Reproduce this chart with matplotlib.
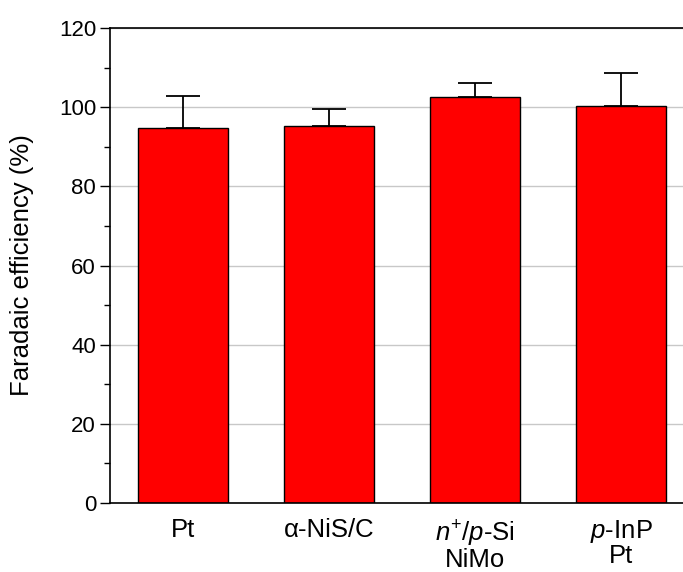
import numpy as np
import matplotlib
matplotlib.use("Agg")
import matplotlib.pyplot as plt

plt.rcParams["font.family"] = ["Liberation Sans", "DejaVu Sans"]
plt.rcParams["mathtext.fontset"] = "custom"
plt.rcParams["mathtext.rm"] = "Liberation Sans"
plt.rcParams["mathtext.it"] = "Liberation Sans:italic"

labels = ["Pt", "\u03b1-NiS/C", "$n^{+}$/$p$-Si\nNiMo", "$p$-InP\nPt"]
efficiency = [94.7, 95.3, 102.6, 100.3]
err_up = [8.1, 4.2, 3.5, 8.3]

fig = plt.figure(figsize=(6.83, 5.72), dpi=100)
ax = fig.add_axes([110 / 683, 69 / 572, 584 / 683, 475 / 572])

x = np.arange(len(labels))
ax.grid(axis="y", color="#c8c8c8", linewidth=1.0, zorder=0)
ax.bar(x, efficiency, width=0.61, color="#ff0000", edgecolor="black",
       linewidth=1.0, zorder=2,
       yerr=[np.zeros(len(err_up)), err_up],
       error_kw=dict(ecolor="black", elinewidth=1.3, capsize=12, capthick=1.3, zorder=3))

ax.set_xlim(-0.5, 3.5)
ax.set_ylim(0, 120)
ax.set_yticks(np.arange(0, 121, 20))
ax.set_yticks(np.arange(10, 120, 20), minor=True)
ax.tick_params(axis="y", which="major", direction="out", length=7, width=1.0,
               labelsize=16, pad=3)
ax.tick_params(axis="y", which="minor", direction="out", length=4, width=1.0)
ax.set_xticks(x)
ax.set_xticklabels(labels, linespacing=0.95)
ax.tick_params(axis="x", length=0, pad=11, labelsize=18.5)
ax.spines["right"].set_visible(False)
for s in ["left", "top", "bottom"]:
    ax.spines[s].set_linewidth(1.2)
ax.set_ylabel("Faradaic efficiency (%)", fontsize=18.5)
ax.yaxis.set_label_coords(-76 / 584, 0.5)

fig.savefig("out.png", dpi=100)
